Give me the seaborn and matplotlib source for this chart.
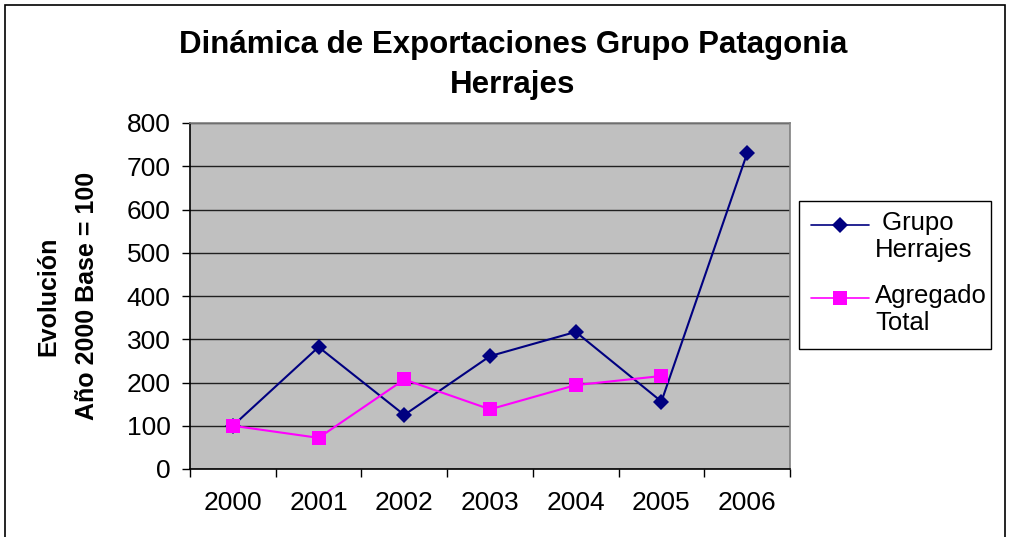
import matplotlib
matplotlib.use("Agg")
import matplotlib.pyplot as plt
import seaborn as sns
import pandas as pd
from matplotlib.patches import Rectangle
from matplotlib.lines import Line2D

years = ["2000", "2001", "2002", "2003", "2004", "2005", "2006"]
grupo_herrajes = [100, 282, 125, 261, 317, 156, 730]
agregado_total = [100, 72, 207, 138, 194, 215]
series_names = [" Grupo\nHerrajes", "Agregado\nTotal"]
colors = ["#000080", "#FF00FF"]
markers = ["D", "s"]

sns.set_theme(style="white")
plt.rcParams['font.family'] = ['Liberation Sans', 'DejaVu Sans']
plt.rcParams['text.color'] = 'black'
plt.rcParams['axes.labelcolor'] = 'black'
plt.rcParams['xtick.color'] = 'black'
plt.rcParams['ytick.color'] = 'black'

rows = []
for i, v in enumerate(grupo_herrajes):
    rows.append({"x": i, "valor": v, "serie": series_names[0]})
for i, v in enumerate(agregado_total):
    rows.append({"x": i, "valor": v, "serie": series_names[1]})
df = pd.DataFrame(rows)

W, H = 1009, 537
fig = plt.figure(figsize=(W/100, H/100), dpi=100)
ax = fig.add_axes([190/W, 1-469/H, 600/W, 346/H])
ax.set_facecolor("#C0C0C0")

sns.lineplot(data=df, x="x", y="valor", hue="serie", style="serie",
             palette=dict(zip(series_names, colors)),
             markers=dict(zip(series_names, markers)),
             dashes=False, markersize=8, linewidth=1.5,
             markeredgewidth=0, ax=ax, legend=False)
for ln, ms in zip(ax.lines, [8.5, 9.5]):
    ln.set_markersize(ms)

ax.set_xlim(-0.5, 6.5)
ax.set_ylim(0, 800)
ax.set_yticks(range(0, 801, 100))
ax.yaxis.grid(True, color="#202020", linewidth=1)
ax.set_axisbelow(True)
ax.set_xticks([i - 0.5 for i in range(8)])
ax.set_xticklabels([])
ax.set_xticks(range(7), minor=True)
ax.set_xticklabels(years, minor=True)
ax.tick_params(axis="x", which="major", direction="out", length=6, width=1, color="black", bottom=True)
ax.tick_params(axis="x", which="minor", length=0, labelsize=19, pad=16)
ax.tick_params(axis="y", direction="out", length=6, width=1, color="black", labelsize=19, pad=8, left=True)
for s in ["top", "right"]:
    ax.spines[s].set_color("#808080")
    ax.spines[s].set_linewidth(1.2)
for s in ["left", "bottom"]:
    ax.spines[s].set_color("black")
    ax.spines[s].set_linewidth(1.2)
ax.set_xlabel("")
ax.set_ylabel("Evolución\nAño 2000 Base = 100", fontsize=18, fontweight="bold",
              labelpad=19.5, linespacing=1.8)

fig.text(513/W, 1-65/H, "Dinámica de Exportaciones Grupo Patagonia\nHerrajes",
         ha="center", va="center", fontsize=22.5, fontweight="bold", linespacing=1.4)

# legend (drawn manually so handles align with the first text line)
fig.patches.append(Rectangle((799/W, 1-349/H), 192/W, 148/H, transform=fig.transFigure,
                             facecolor="white", edgecolor="black", linewidth=1, zorder=5))
for name, c, m, ms, yh, yb in zip(series_names, colors, markers, [8.5, 9.5], [225, 298], [230, 303]):
    fig.add_artist(Line2D([811/W, 869/W], [1-yh/H, 1-yh/H], transform=fig.transFigure,
                          color=c, linewidth=1.2, zorder=6))
    fig.add_artist(Line2D([840/W], [1-yh/H], transform=fig.transFigure, color=c,
                          marker=m, markersize=ms, markeredgewidth=0, linestyle="none", zorder=6))
    for k, line in enumerate(name.split("\n")):
        fig.text(875/W, 1-(yb + 27*k)/H, line, ha="left", va="baseline", fontsize=18.5,
                 zorder=7, transform=fig.transFigure)

fig.patches.append(Rectangle((5/W, -0.05), 1000/W, 1-5/H+0.05, transform=fig.transFigure,
                             fill=False, edgecolor="black", linewidth=1.2))

fig.savefig("out.png", dpi=100)
